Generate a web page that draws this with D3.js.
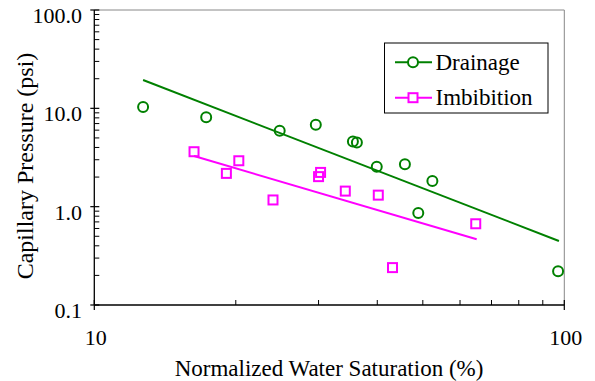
<!DOCTYPE html>
<html><head><meta charset="utf-8">
<script src="https://cdn.jsdelivr.net/npm/d3@7"></script>
<style>body{margin:0;background:#fff}svg{display:block}</style>
</head><body><svg id="c" width="595" height="381"></svg>
<script>
// Data
const drainageSw = [12.7, 17.3, 24.8, 29.6, 35.5, 36.2, 39.9, 45.8, 52.4, 48.9, 97.0];
const drainagePc = [10.3, 8.1, 5.9, 6.8, 4.6, 4.5, 2.55, 2.7, 1.82, 0.86, 0.22];
const imbibitionSw = [16.3, 20.3, 19.1, 24.0, 30.3, 30.0, 34.2, 40.2, 43.1, 64.8];
const imbibitionPc = [3.62, 2.93, 2.18, 1.17, 2.23, 2.02, 1.44, 1.31, 0.24, 0.67];
const drainageTrendSw = [12.7, 97.4];
const drainageTrendPc = [19.4, 0.448];
const imbibitionTrendSw = [16.3, 65.1];
const imbibitionTrendPc = [3.27, 0.466];
const xTickLabels = ["10", "100"];
const yTickLabels = ["0.1", "1.0", "10.0", "100.0"];
const seriesNames = ["Drainage", "Imbibition"];

const FONT = "'Liberation Serif', serif";
const svg = d3.select("#c");
const L = 94.3, R = 564.3, T = 10, B = 305;
const x = d3.scaleLog().domain([10, 100]).range([L, R]);
const y = d3.scaleLog().domain([0.1, 100]).range([B, T]);
const green = "#008000", mag = "#ff00ff";

// frame top & right (gray)
svg.append("line").attr("x1", L).attr("x2", R).attr("y1", T).attr("y2", T).attr("stroke", "#888").attr("stroke-width", 1);
svg.append("line").attr("x1", R).attr("x2", R).attr("y1", T).attr("y2", B).attr("stroke", "#888").attr("stroke-width", 1);

// minor ticks
const yMinor = [], xMinor = [];
[0.1, 1, 10].forEach(d => { for (let k = 2; k <= 9; k++) yMinor.push(d * k); });
for (let k = 2; k <= 9; k++) xMinor.push(10 * k);
svg.selectAll(".ym").data(yMinor).join("line").attr("x1", L).attr("x2", L + 5)
  .attr("y1", d => y(d)).attr("y2", d => y(d)).attr("stroke", "#000").attr("stroke-width", 1);
svg.selectAll(".xm").data(xMinor).join("line").attr("x1", d => x(d)).attr("x2", d => x(d))
  .attr("y1", B).attr("y2", B - 5).attr("stroke", "#000").attr("stroke-width", 1);
// major ticks
const yMajor = [0.1, 1, 10, 100], xMajor = [10, 100];
svg.selectAll(".yM").data(yMajor).join("line").attr("x1", L - 4).attr("x2", L + 5)
  .attr("y1", d => y(d)).attr("y2", d => y(d)).attr("stroke", "#000").attr("stroke-width", 1.2);
svg.selectAll(".xM").data(xMajor).join("line").attr("x1", d => x(d)).attr("x2", d => x(d))
  .attr("y1", B - 5).attr("y2", B + 5).attr("stroke", "#000").attr("stroke-width", 1.2);
// axes lines
svg.append("line").attr("x1", L).attr("x2", L).attr("y1", T).attr("y2", B).attr("stroke", "#000").attr("stroke-width", 1.3);
svg.append("line").attr("x1", L).attr("x2", R).attr("y1", B).attr("y2", B).attr("stroke", "#000").attr("stroke-width", 1.3);

// tick labels
svg.selectAll(".yl").data(yMajor).join("text").attr("x", 82).attr("y", d => y(d) + 13)
  .attr("font-family", FONT).attr("text-anchor", "end").attr("font-size", 22).text((d, i) => yTickLabels[i]);
svg.selectAll(".xl").data(xMajor).join("text").attr("x", d => x(d) + 1.5).attr("y", 345)
  .attr("font-family", FONT).attr("text-anchor", "middle").attr("font-size", 22).text((d, i) => xTickLabels[i]);

// axis titles
svg.append("text").attr("x", 329).attr("y", 376).attr("text-anchor", "middle").attr("font-size", 23)
  .attr("font-family", FONT).text("Normalized Water Saturation (%)");
svg.append("text").attr("transform", "translate(33,166) rotate(-90)").attr("text-anchor", "middle").attr("font-size", 24)
  .attr("font-family", FONT).text("Capillary Pressure (psi)");

// trend lines
const line = d3.line().x(d => x(d[0])).y(d => y(d[1]));
svg.append("path").attr("d", line(d3.zip(drainageTrendSw, drainageTrendPc))).attr("stroke", green).attr("stroke-width", 2).attr("fill", "none");
svg.append("path").attr("d", line(d3.zip(imbibitionTrendSw, imbibitionTrendPc))).attr("stroke", mag).attr("stroke-width", 2).attr("fill", "none");

// markers
svg.selectAll(".dp").data(d3.zip(drainageSw, drainagePc)).join("circle")
  .attr("cx", d => x(d[0])).attr("cy", d => y(d[1])).attr("r", 5)
  .attr("fill", "none").attr("stroke", green).attr("stroke-width", 2);
svg.selectAll(".ip").data(d3.zip(imbibitionSw, imbibitionPc)).join("rect")
  .attr("x", d => x(d[0]) - 4.5).attr("y", d => y(d[1]) - 4.5).attr("width", 9).attr("height", 9)
  .attr("fill", "none").attr("stroke", mag).attr("stroke-width", 2);

// legend
svg.append("rect").attr("x", 384.5).attr("y", 43).attr("width", 163.5).attr("height", 70)
  .attr("fill", "#fff").attr("stroke", "#000").attr("stroke-width", 1);
const lg = [{ c: green, yy: 62.3, t: "circle" }, { c: mag, yy: 97.7, t: "rect" }];
lg.forEach((g, i) => {
  svg.append("line").attr("x1", 395).attr("x2", 432).attr("y1", g.yy).attr("y2", g.yy).attr("stroke", g.c).attr("stroke-width", 2);
  if (g.t === "circle") svg.append("circle").attr("cx", 413).attr("cy", g.yy).attr("r", 5).attr("fill", "#fff").attr("stroke", g.c).attr("stroke-width", 2);
  else svg.append("rect").attr("x", 413 - 4.5).attr("y", g.yy - 4.5).attr("width", 9).attr("height", 9).attr("fill", "#fff").attr("stroke", g.c).attr("stroke-width", 2);
  svg.append("text").attr("x", 435.5).attr("y", g.yy + 7.5).attr("font-size", 23).attr("font-family", FONT).text(seriesNames[i]);
});
</script></body></html>
